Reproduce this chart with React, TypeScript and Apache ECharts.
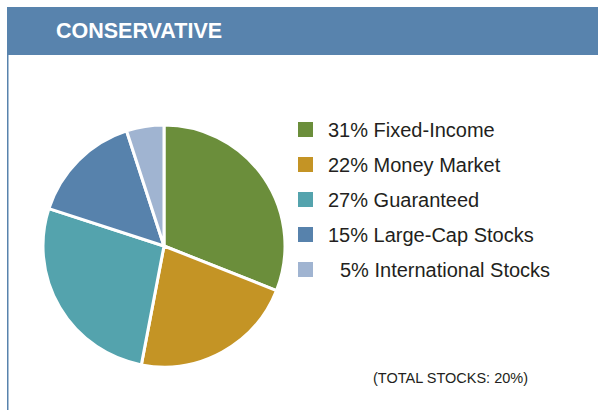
import React, { useEffect, useRef } from "react";
import * as echarts from "echarts";

const categories = ["Fixed-Income", "Money Market", "Guaranteed", "Large-Cap Stocks", "International Stocks"];
const values = [31, 22, 27, 15, 5];
const colors = ["#6b8e3b", "#c49425", "#54a3ad", "#5782ac", "#a0b4d1"];
const title = "CONSERVATIVE";
const note = "(TOTAL STOCKS: 20%)";

export default function App() {
  const ref = useRef<HTMLDivElement>(null);
  useEffect(() => {
    if (!ref.current) return;
    const chart = echarts.init(ref.current, null, { renderer: "svg" });
    const data = categories.map((c, i) => ({ name: c, value: values[i], itemStyle: { color: colors[i] } }));
    chart.setOption({
      animation: false,
      backgroundColor: "#ffffff",
      graphic: [
        { type: "rect", shape: { x: 7, y: 7, width: 591, height: 48 }, style: { fill: "#5883ad" } },
        { type: "rect", shape: { x: 7, y: 55, width: 1.5, height: 355 }, style: { fill: "#5883ad" } },
        {
          type: "text",
          x: 56,
          y: 31,
          style: {
            text: title,
            fill: "#ffffff",
            font: "bold 21.5px 'Liberation Sans', Arial, sans-serif",
            verticalAlign: "middle",
          },
        },
        {
          type: "text",
          x: 373,
          y: 378,
          style: {
            text: note,
            fill: "#231f20",
            font: "14.5px 'Liberation Sans', Arial, sans-serif",
            verticalAlign: "middle",
          },
        },
      ],
      legend: {
        orient: "vertical",
        left: 296,
        top: 119.5,
        padding: 0,
        icon: "rect",
        itemWidth: 17,
        itemHeight: 17,
        itemGap: 15,
        selectedMode: false,
        data: categories,
        formatter: (name: string) => {
          const i = categories.indexOf(name);
          const v = values[i];
          const pad = v < 10 ? "padL" : "pad";
          return `{${pad}|}{t|${v}% ${name}}`;
        },
        textStyle: {
          lineHeight: 17,
          rich: {
            pad: { width: 9, lineHeight: 17 },
            padL: { width: 21, lineHeight: 17 },
            t: { fontSize: 20, lineHeight: 17, color: "#231f20", fontFamily: "'Liberation Sans', Arial, sans-serif" },
          },
        },
      },
      series: [
        {
          type: "pie",
          center: [164, 246],
          radius: 121,
          startAngle: 90,
          clockwise: true,
          label: { show: false },
          labelLine: { show: false },
          emphasis: { disabled: true },
          itemStyle: { borderColor: "#ffffff", borderWidth: 3 },
          data,
        },
      ],
    });
    return () => chart.dispose();
  }, []);
  return <div ref={ref} style={{ position: "fixed", left: 0, top: 0, width: 598, height: 410 }} />;
}
